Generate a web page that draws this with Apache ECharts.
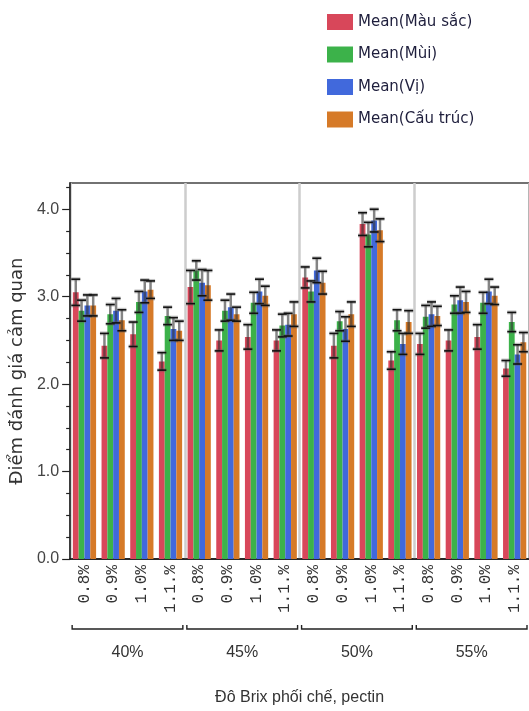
<!DOCTYPE html>
<html>
<head>
<meta charset="utf-8">
<script src="https://cdn.jsdelivr.net/npm/echarts@6/dist/echarts.min.js"></script>
<style>
  html, body { margin: 0; padding: 0; background: #fff; }
  #chart { width: 529px; height: 711px; }
</style>
</head>
<body>
<div id="chart"></div>
<script>
// Brix levels (outer groups) and pectin levels (inner categories)
const brixGroups = ['40%', '45%', '50%', '55%'];
const pectinLevels = ['0.8%', '0.9%', '1.0%', '1.1.%'];
const seriesNames = ['Mean(Màu sắc)', 'Mean(Mùi)', 'Mean(Vị)', 'Mean(Cấu trúc)'];
const yTickValues = [0, 1, 2, 3, 4];

// Mean sensory scores, ordered 40% [0.8, 0.9, 1.0, 1.1], 45% [...], 50% [...], 55% [...]
const meanMauSac  = [3.05, 2.44, 2.57, 2.26,  3.11, 2.50, 2.54, 2.50,  3.22, 2.44, 3.83, 2.27,  2.46, 2.50, 2.54, 2.18];
const meanMui     = [2.84, 2.80, 2.94, 2.78,  3.30, 2.84, 2.93, 2.67,  3.06, 2.72, 3.71, 2.73,  2.77, 2.91, 2.93, 2.71];
const meanVi      = [2.90, 2.84, 3.06, 2.63,  3.16, 2.88, 3.06, 2.68,  3.30, 2.63, 3.87, 2.46,  2.80, 2.96, 3.06, 2.34];
const meanCauTruc = [2.90, 2.73, 3.08, 2.61,  3.13, 2.80, 3.01, 2.80,  3.16, 2.80, 3.76, 2.71,  2.78, 2.94, 3.01, 2.48];

// Standard errors drawn as error bars
const seMauSac  = [0.15, 0.14, 0.14, 0.10,  0.19, 0.12, 0.14, 0.12,  0.12, 0.14, 0.13, 0.10,  0.12, 0.12, 0.14, 0.09];
const seMui     = [0.12, 0.11, 0.12, 0.10,  0.11, 0.12, 0.12, 0.13,  0.12, 0.11, 0.14, 0.12,  0.13, 0.10, 0.12, 0.11];
const seVi      = [0.12, 0.14, 0.13, 0.13,  0.15, 0.15, 0.14, 0.13,  0.14, 0.14, 0.13, 0.12,  0.14, 0.15, 0.14, 0.11];
const seCauTruc = [0.12, 0.12, 0.10, 0.11,  0.17, 0.08, 0.11, 0.14,  0.13, 0.14, 0.13, 0.13,  0.11, 0.12, 0.10, 0.11];

const means = [meanMauSac, meanMui, meanVi, meanCauTruc];
const errors = [seMauSac, seMui, seVi, seCauTruc];
const colors = ['#d8475a', '#3cb24a', '#4169dc', '#d67a28'];

const categories = brixGroups.flatMap(() => pectinLevels);
const CAT_GAP = 0.19;
const nSeries = seriesNames.length;

const sansFont = "'Liberation Sans', Arial, sans-serif";
const textColor = '#333';

const minorTicks = [];
for (let v = 0.25; v < 4.3; v += 0.25) {
  if (Math.abs(v - Math.round(v)) > 1e-6) minorTicks.push(+v.toFixed(2));
}

function errorBars(si) {
  return {
    type: 'custom',
    name: 'err' + si,
    xAxisIndex: 0,
    yAxisIndex: 0,
    silent: true,
    z: 5,
    data: means[si].map((m, i) => [i, m, errors[si][i]]),
    renderItem(params, api) {
      const i = api.value(0), m = api.value(1), e = api.value(2);
      const band = api.size([1, 0])[0];
      const w = band * (1 - CAT_GAP) / nSeries;
      const x = api.coord([i, m])[0] + (si - (nSeries - 1) / 2) * w;
      const yHi = api.coord([i, m + e])[1];
      const yLo = api.coord([i, m - e])[1];
      const cap = 4.5;
      return {
        type: 'group',
        children: [
          { type: 'line', shape: { x1: x, y1: yHi, x2: x, y2: yLo },
            style: { stroke: 'rgba(50,50,50,0.6)', lineWidth: 2.5 } },
          { type: 'line', shape: { x1: x - cap, y1: yHi, x2: x + cap, y2: yHi },
            style: { stroke: 'rgba(90,90,90,0.35)', lineWidth: 4 } },
          { type: 'line', shape: { x1: x - cap, y1: yLo, x2: x + cap, y2: yLo },
            style: { stroke: 'rgba(90,90,90,0.35)', lineWidth: 4 } },
          { type: 'line', shape: { x1: x - cap, y1: yHi, x2: x + cap, y2: yHi },
            style: { stroke: '#111', lineWidth: 1.6 } },
          { type: 'line', shape: { x1: x - cap, y1: yLo, x2: x + cap, y2: yLo },
            style: { stroke: '#111', lineWidth: 1.6 } }
        ]
      };
    }
  };
}

// Brackets under each Brix group
const groupBrackets = {
  type: 'custom',
  name: 'brackets',
  xAxisIndex: 0,
  yAxisIndex: 0,
  silent: true,
  clip: false,
  data: brixGroups.map((g, gi) => [gi * pectinLevels.length, 0]),
  renderItem(params, api) {
    const first = api.value(0);
    const last = first + pectinLevels.length - 1;
    const band = api.size([1, 0])[0];
    const x1 = api.coord([first, 0])[0] - band / 2 + 2;
    const x2 = api.coord([last, 0])[0] + band / 2 - 2;
    const y = api.coord([first, 0])[1] + 70;
    return {
      type: 'polyline',
      shape: { points: [[x1, y - 4], [x1, y], [x2, y], [x2, y - 4]] },
      style: { stroke: '#222', lineWidth: 1.4, fill: null }
    };
  }
};

const chart = echarts.init(document.getElementById('chart'), null, { renderer: 'canvas' });

chart.setOption({
  animation: false,
  backgroundColor: '#fff',
  legend: {
    data: seriesNames,
    orient: 'vertical',
    left: 322,
    top: 9,
    itemWidth: 26,
    itemHeight: 16,
    itemGap: 16.5,
    icon: 'rect',
    selectedMode: false,
    textStyle: { fontSize: 15, color: '#1e1e3c', fontFamily: "'DejaVu Sans', sans-serif" }
  },
  grid: {
    left: 61,
    top: 183,
    right: -7,
    bottom: 148,
    show: true,
    borderColor: '#444',
    borderWidth: 1.5,
    backgroundColor: 'transparent'
  },
  xAxis: [
    {
      type: 'category',
      data: categories,
      position: 'bottom',
      axisLine: { lineStyle: { color: '#111', width: 1.5 } },
      axisTick: { show: false },
      axisLabel: {
        rotate: 90,
        interval: 0,
        margin: 6,
        fontSize: 16,
        color: textColor,
        fontFamily: "'Liberation Mono', 'DejaVu Sans Mono', monospace"
      },
      name: 'Đô Brix phối chế, pectin',
      nameLocation: 'middle',
      nameGap: 131,
      nameTextStyle: { fontSize: 16, color: textColor, fontFamily: sansFont }
    },
    {
      type: 'category',
      data: brixGroups,
      position: 'bottom',
      offset: 83,
      axisLine: { show: false },
      axisTick: { show: false },
      axisLabel: { margin: 3, fontSize: 16, color: textColor, fontFamily: sansFont },
      splitLine: { show: true, lineStyle: { color: '#cdcdcd', width: 2.5 } }
    }
  ],
  yAxis: [
    {
      type: 'value',
      min: 0,
      max: 4.3,
      position: 'left',
      axisLine: { show: true, lineStyle: { color: '#111', width: 1.5 } },
      axisTick: { show: true, length: 8, customValues: yTickValues, lineStyle: { color: '#222', width: 1.2 } },
      axisLabel: {
        customValues: yTickValues,
        formatter: v => v.toFixed(1),
        margin: 11,
        fontSize: 16,
        color: '#444',
        fontFamily: sansFont
      },
      splitLine: { show: false },
      name: 'Điểm đánh giá cảm quan',
      nameLocation: 'middle',
      nameGap: 32,
      nameTextStyle: { fontSize: 18, color: textColor, fontFamily: "'DejaVu Sans', sans-serif" }
    },
    {
      type: 'value',
      min: 0,
      max: 4.3,
      position: 'left',
      axisLine: { show: false },
      axisTick: { show: true, length: 4, customValues: minorTicks, lineStyle: { color: '#222', width: 1.2 } },
      axisLabel: { show: false },
      splitLine: { show: false }
    }
  ],
  series: [
    ...seriesNames.map((name, si) => ({
      type: 'bar',
      name: name,
      xAxisIndex: 0,
      yAxisIndex: 0,
      data: means[si],
      barGap: '0%',
      barCategoryGap: (CAT_GAP * 100) + '%',
      itemStyle: { color: colors[si] },
      z: 3
    })),
    ...seriesNames.map((name, si) => errorBars(si)),
    groupBrackets
  ]
});
</script>
</body>
</html>
